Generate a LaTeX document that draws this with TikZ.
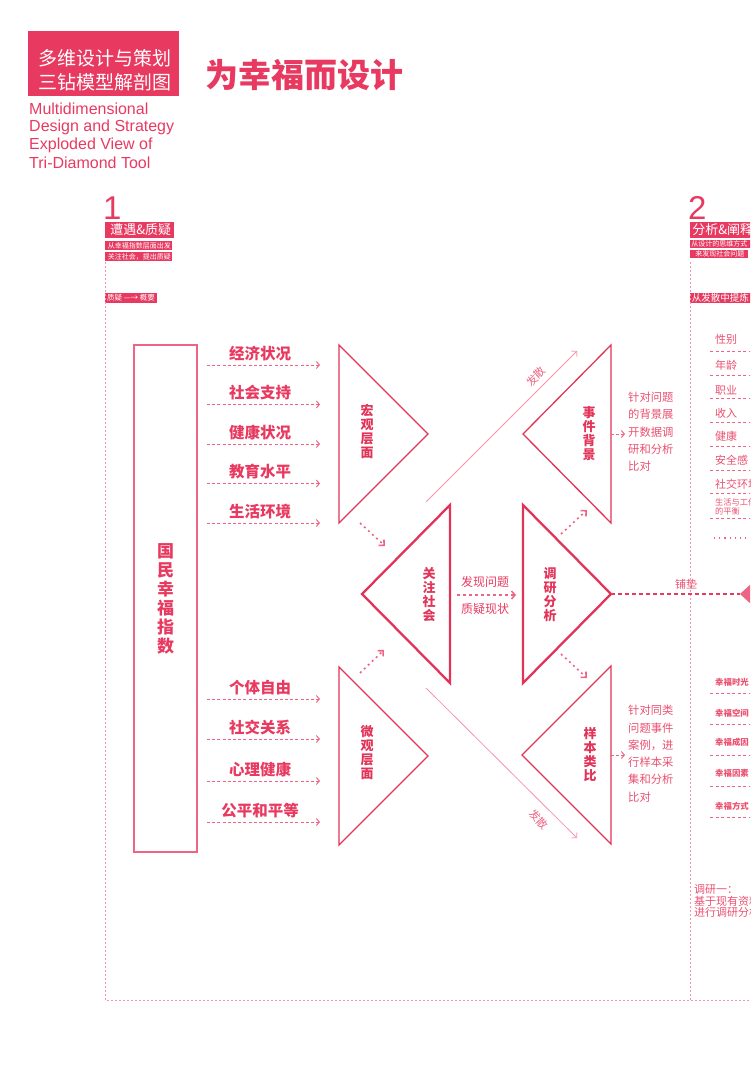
\documentclass[tikz,border=0pt]{standalone}
\usepackage{fontspec}
\setmainfont{Noto Sans CJK SC}
\newfontfamily\en{Liberation Sans}
\usetikzlibrary{arrows.meta}
\definecolor{hred}{RGB}{232,58,96}
\definecolor{tred}{RGB}{226,52,88}
\definecolor{pdash}{RGB}{238,100,132}
\definecolor{lpink}{RGB}{245,150,172}
\definecolor{ptext}{RGB}{234,80,112}
\tikzset{
 lbl/.style={font=\fontsize{15.5}{17}\selectfont\bfseries, text=hred, inner sep=0},
 darr/.style={draw=pdash, line width=1pt, dash pattern=on 3pt off 2.2pt, -{Straight Barb[length=3pt,width=7pt]}},
 dots/.style={draw=pdash, line width=1.6pt, dash pattern=on 2pt off 3.5pt, -{Straight Barb[length=4pt,width=8pt,line width=1.6pt]}},
 spread/.style={draw=lpink, line width=0.8pt, -{Straight Barb[length=3.5pt,width=8pt]}},
 tri/.style={draw=tred, line width=1.3pt, line join=miter},
 trib/.style={draw=tred, line width=2.3pt, line join=miter},
 vtxt/.style={font=\fontsize{13}{14}\selectfont\bfseries, text=tred, align=center, inner sep=0},
 desc/.style={font=\fontsize{11.3}{17.3}\selectfont, text=ptext, align=left, inner sep=0, anchor=north west},
 redbox/.style={fill=hred, text=white, inner sep=0, anchor=west},
 frame/.style={draw=lpink, line width=1pt, dash pattern=on 2pt off 2pt},
 item/.style={font=\fontsize{11}{12}\selectfont, text=ptext, inner sep=0, anchor=west},
 itemb/.style={font=\fontsize{8.4}{9}\selectfont\bfseries, text=ptext, inner sep=0, anchor=west},
 uline/.style={draw=pdash, line width=1pt, dash pattern=on 3pt off 2.5pt},
}
\begin{document}
\begin{tikzpicture}[x=1pt,y=-1pt]
\useasboundingbox (0,0) rectangle (750,1070);
\begin{scope}
\clip (0,0) rectangle (750,1070);
% header
\node[fill=hred, minimum width=151pt, minimum height=65pt, inner sep=0] (hbox) at (103.5,63.5) {};
\node[text=white, font=\fontsize{19}{21}\selectfont, inner sep=0] (h1) at (105,58) {多维设计与策划};
\node[text=white, font=\fontsize{19}{21}\selectfont, inner sep=0] (h2) at (105,82) {三钻模型解剖图};
\node[text=hred, font=\fontsize{33}{35}\selectfont\bfseries, inner sep=0] (title) at (304,75) {为幸福而设计};
\node[text=hred, font=\en\fontsize{16}{18}\selectfont, anchor=west, inner sep=0] (e1) at (29,109) {Multidimensional};
\node[text=hred, font=\en\fontsize{16}{18}\selectfont, anchor=west, inner sep=0] (e2) at (29,127) {Design and Strategy};
\node[text=hred, font=\en\fontsize{16}{18}\selectfont, anchor=west, inner sep=0] (e3) at (29,145) {Exploded View of};
\node[text=hred, font=\en\fontsize{16}{18}\selectfont, anchor=west, inner sep=0] (e4) at (29,163) {Tri-Diamond Tool};

% section 1 header
\node[text=hred, font=\en\fontsize{33}{34}\selectfont, anchor=south west, inner sep=0] (n1) at (103,220) {1};
\node[redbox, minimum width=69pt, minimum height=16pt, font=\fontsize{13}{14}\selectfont] (s1a) at (105,230) {\,遭遇\&质疑};
\node[redbox, minimum width=67pt, minimum height=8.5pt, font=\fontsize{7}{8}\selectfont] (s1b) at (105,245.5) {\,从幸福指数层面出发};
\node[redbox, minimum width=67pt, minimum height=8.5pt, font=\fontsize{7}{8}\selectfont] (s1c) at (105,256.5) {\,关注社会，提出质疑};
\node[redbox, minimum height=10pt, font=\fontsize{7.5}{8}\selectfont, inner xsep=2pt] (s1d) at (105,298) {质疑 —→ 概要};

% section 2 header
\node[text=hred, font=\en\fontsize{33}{34}\selectfont, anchor=south west, inner sep=0] (n2) at (688,220) {2};
\node[redbox, minimum width=62pt, minimum height=16pt, font=\fontsize{13}{14}\selectfont, text width=62pt] (s2a) at (690,230) {\,分析\&阐释};
\node[redbox, minimum width=62pt, minimum height=8pt, font=\fontsize{7}{8}\selectfont, text width=62pt] (s2b) at (690,243.5) {\,从设计的思维方式};
\node[redbox, minimum width=58pt, minimum height=8pt, font=\fontsize{7}{8}\selectfont] (s2c) at (690,254) {\,来发现社会问题};
\node[redbox, minimum width=62pt, minimum height=10pt, font=\fontsize{9.5}{10}\selectfont, text width=62pt] (s2d) at (690,298) {\,从发散中提炼};

% frame lines
\coordinate (f1t) at (105,262);
\coordinate (f1b) at (105,1000);
\coordinate (f2t) at (690,262);
\coordinate (f2b) at (690,1000);
\coordinate (fr) at (752,1000);
\draw[frame] (f1t) -- (f1b) -- (fr);
\draw[frame] (f2t) -- (f2b);

% main box
\node[draw=pdash, line width=1.5pt, minimum width=63pt, minimum height=507pt, inner sep=0,
  font=\fontsize{17}{19}\selectfont\bfseries, text=hred, align=center] (gnh) at (165.5,598.5) {国\\民\\幸\\福\\指\\数};

% input rows
\foreach \i/\y/\t in {a/365/经济状况, b/404.5/社会支持, c/444/健康状况, d/483.5/教育水平, e/523/生活环境,
  f/699/个体自由, g/739/社交关系, h/781/心理健康, k/822/公平和平等}{
  \node[lbl] (l\i) at (260,\y-11.5) {\t};
  \coordinate (s\i) at (207,\y);
  \coordinate (t\i) at (320,\y);
  \draw[darr] (s\i) -- (t\i);
}

% triangles
\coordinate (m1) at (339,345); \coordinate (m2) at (428,434); \coordinate (m3) at (339,523);
\draw[tri] (m1) -- (m2) -- (m3) -- cycle;
\node[vtxt] (macro) at (367,431) {宏\\观\\层\\面};
\coordinate (b1) at (611,345); \coordinate (b2) at (523,434); \coordinate (b3) at (611,523);
\draw[tri] (b1) -- (b2) -- (b3) -- cycle;
\node[vtxt] (bg) at (589,434) {事\\件\\背\\景};
\coordinate (u1) at (339,667); \coordinate (u2) at (428,756); \coordinate (u3) at (339,845);
\draw[tri] (u1) -- (u2) -- (u3) -- cycle;
\node[vtxt] (micro) at (367,753) {微\\观\\层\\面};
\coordinate (y1) at (611,666); \coordinate (y2) at (522,755); \coordinate (y3) at (611,844);
\draw[tri] (y1) -- (y2) -- (y3) -- cycle;
\node[vtxt] (sample) at (590,755) {样\\本\\类\\比};
\coordinate (g1) at (450,505); \coordinate (g2) at (362,594); \coordinate (g3) at (450,683);
\draw[trib] (g1) -- (g2) -- (g3) -- cycle;
\node[vtxt] (focus) at (429,595) {关\\注\\社\\会};
\coordinate (r1) at (523,505); \coordinate (r2) at (611,594); \coordinate (r3) at (523,683);
\draw[trib] (r1) -- (r2) -- (r3) -- cycle;
\node[vtxt] (res) at (550,595) {调\\研\\分\\析};

% middle arrow
\coordinate (ma) at (457,595); \coordinate (mb) at (516,595);
\draw[pdash, line width=1.5pt, dash pattern=on 3pt off 3pt, -{Straight Barb[length=3.5pt,width=8pt,line width=1.5pt]}] (ma) -- (mb);
\node[font=\fontsize{12}{13}\selectfont, text=hred, inner sep=0] (find) at (485,582) {发现问题};
\node[font=\fontsize{12}{13}\selectfont, text=hred, inner sep=0] (doubt) at (485,609) {质疑现状};

% dotted diagonal arrows
\coordinate (d1a) at (360,523); \coordinate (d1b) at (385,546);
\coordinate (d2a) at (360,673); \coordinate (d2b) at (384,650);
\coordinate (d3a) at (561,534); \coordinate (d3b) at (587,510);
\coordinate (d4a) at (561,654); \coordinate (d4b) at (587,678);
\draw[dots] (d1a) -- (d1b);
\draw[dots] (d2a) -- (d2b);
\draw[dots] (d3a) -- (d3b);
\draw[dots] (d4a) -- (d4b);

% spread lines
\coordinate (sp1a) at (426,502); \coordinate (sp1b) at (577,351);
\draw[spread] (sp1a) -- node[pos=0.78, sloped, above=5.5pt, font=\fontsize{11}{12}\selectfont, text=pdash, inner sep=0] (sp1l) {发散} (sp1b);
\coordinate (sp2a) at (426,688); \coordinate (sp2b) at (577,838);
\draw[spread] (sp2a) -- node[pos=0.81, sloped, below=8pt, font=\fontsize{11}{12}\selectfont, text=pdash, inner sep=0] (sp2l) {发散} (sp2b);

% side descriptions
\coordinate (bgx) at (625,434);
\draw[darr] (b2 -| b1) -- (bgx);
\node[desc] (bgd) at (628,392) {针对问题\\的背景展\\开数据调\\研和分析\\比对};
\coordinate (syx) at (625,755);
\draw[darr] (y2 -| y1) -- (syx);
\node[desc] (syd) at (628,705) {针对同类\\问题事件\\案例，进\\行样本采\\集和分析\\比对};

% bridge to section 2
\coordinate (pd) at (740,594);
\draw[hred, line width=1.6pt, dash pattern=on 4pt off 3pt] (r2) -- (pd);
\node[font=\fontsize{11}{12}\selectfont, text=ptext, inner sep=0] (pdl) at (686,584) {铺垫};
\fill[pdash] (pd) -- (752,583) -- (752,605) -- cycle;

% right list
\foreach \n/\y/\t/\u in {p1/339/性别/351, p2/365/年龄/375, p3/390/职业/398, p4/413/收入/422, p5/436/健康/446, p6/460/安全感/470, p7/484/社交环境/493}{
  \node[item] (\n) at (715,\y) {\t};
  \coordinate (\n a) at (710,\u); \coordinate (\n b) at (752,\u);
  \draw[uline] (\n a) -- (\n b);
}
\node[font=\fontsize{8.2}{9}\selectfont, text=ptext, inner sep=0, anchor=west, align=left] (p8) at (715,507) {生活与工作\\的平衡};
\coordinate (p8a) at (710,518); \coordinate (p8b) at (752,518);
\draw[uline] (p8a) -- (p8b);
\coordinate (p9a) at (714,538); \coordinate (p9b) at (752,538);
\draw[pdash, line width=1.2pt, dash pattern=on 1.2pt off 4pt] (p9a) -- (p9b);

\foreach \n/\y/\t/\u in {q1/682/幸福时光/693, q2/713/幸福空间/724, q3/742/幸福成因/755, q4/773/幸福因素/786, q5/806/幸福方式/817}{
  \node[itemb] (\n) at (715,\y) {\t};
  \coordinate (\n a) at (710,\u); \coordinate (\n b) at (752,\u);
  \draw[uline] (\n a) -- (\n b);
}
\node[font=\fontsize{11}{11.8}\selectfont, text=ptext, inner sep=0, anchor=north west, align=left] (dy) at (694,884) {调研一：\\基于现有资料\\进行调研分析};
\end{scope}
\end{tikzpicture}
\end{document}
